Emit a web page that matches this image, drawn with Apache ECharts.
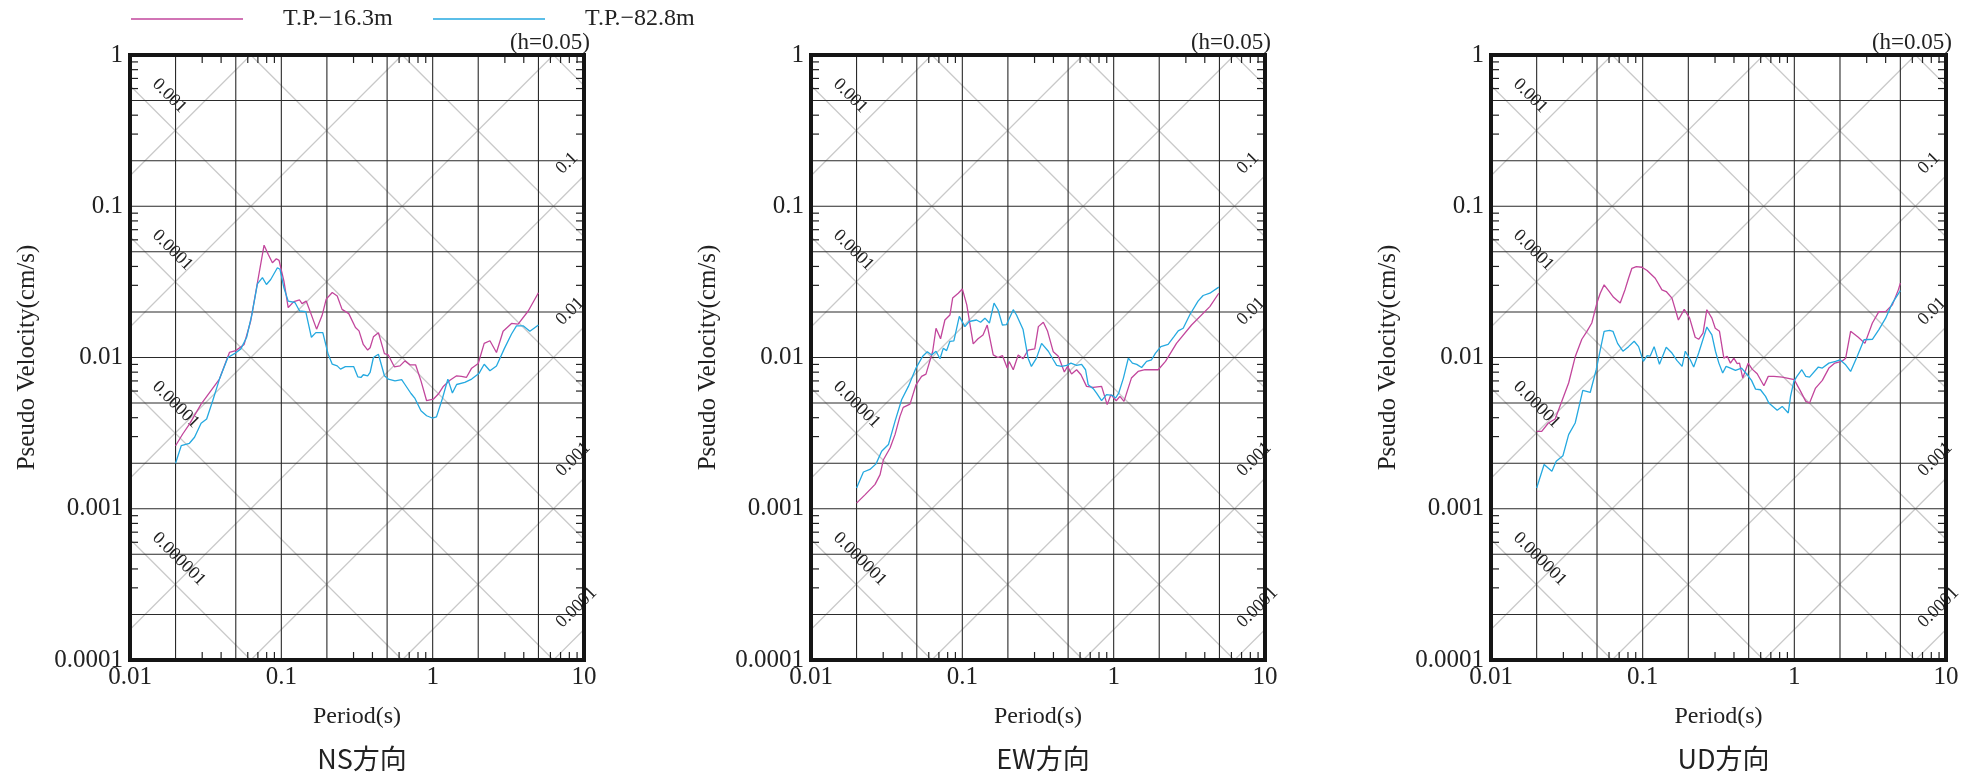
<!DOCTYPE html>
<html>
<head>
<meta charset="utf-8">
<script src="https://cdn.jsdelivr.net/npm/echarts@6/dist/echarts.min.js"></script>
<style>
html,body{margin:0;padding:0;background:#fff;}
#chart{width:1977px;height:779px;}
</style>
</head>
<body>
<div id="chart"></div>
<script>
// ---------------- data ----------------
const seriesNames = ['T.P.−16.3m', 'T.P.−82.8m'];
const panelTitles = ['NS方向', 'EW方向', 'UD方向'];
const dampingLabel = '(h=0.05)';
const periodTickLabels = ['0.01', '0.1', '1', '10'];
const velocityTickLabels = ['0.0001', '0.001', '0.01', '0.1', '1'];
const periodGrid = [0.02, 0.05, 0.1, 0.2, 0.5, 1, 2, 5];
const velocityGrid = [0.5, 0.2, 0.1, 0.05, 0.02, 0.01, 0.005, 0.002, 0.001, 0.0005, 0.0002];
const minorMultipliers = [3, 4, 6, 7, 8, 9];
const dispLines = [1e-6, 1e-5, 1e-4, 1e-3, 1e-2, 1e-1, 1];      // cm
const dispLabels = ['0.001', '0.0001', '0.00001', '0.000001'];
const accLines = [1e-4, 1e-3, 1e-2, 0.1, 1, 10, 100];           // cm/s2
const accLabels = ['0.1', '0.01', '0.001', '0.0001'];

const nsUpper = [[0.02,0.00261],[0.0223,0.00312],[0.0247,0.00363],[0.0295,0.00492],[0.039,0.0072],[0.0454,0.0108],[0.05,0.0111],[0.0568,0.0122],[0.0628,0.0175],[0.0695,0.0312],[0.0769,0.0553],[0.082,0.048],[0.0873,0.0423],[0.0927,0.045],[0.0966,0.0439],[0.104,0.032],[0.111,0.0214],[0.121,0.0234],[0.132,0.024],[0.137,0.0227],[0.146,0.0236],[0.156,0.0198],[0.171,0.0154],[0.186,0.019],[0.198,0.0243],[0.217,0.0269],[0.234,0.0255],[0.252,0.0208],[0.279,0.0195],[0.309,0.0158],[0.326,0.015],[0.348,0.0122],[0.372,0.0112],[0.386,0.0116],[0.406,0.0137],[0.438,0.0146],[0.48,0.0106],[0.509,0.0104],[0.558,0.00868],[0.608,0.0088],[0.656,0.0095],[0.708,0.00895],[0.771,0.00895],[0.837,0.00701],[0.912,0.00518],[1.01,0.0053],[1.09,0.00573],[1.17,0.0064],[1.3,0.00708],[1.44,0.00757],[1.55,0.0075],[1.67,0.00738],[1.81,0.0085],[2.0,0.00912],[2.19,0.0124],[2.39,0.0129],[2.64,0.0108],[2.92,0.0149],[3.32,0.0168],[3.67,0.0166],[4.28,0.0203],[5.0,0.0268]];
const nsLower = [[0.02,0.002],[0.0218,0.00261],[0.0247,0.00271],[0.0267,0.00297],[0.0295,0.00367],[0.0321,0.00392],[0.0352,0.00518],[0.039,0.0072],[0.0443,0.01],[0.049,0.0106],[0.054,0.0114],[0.059,0.0136],[0.0639,0.0193],[0.0695,0.0307],[0.075,0.0337],[0.0797,0.0304],[0.0851,0.0328],[0.0942,0.0392],[0.098,0.0383],[0.104,0.0289],[0.111,0.0236],[0.123,0.0231],[0.132,0.0203],[0.145,0.0201],[0.158,0.0136],[0.169,0.0146],[0.188,0.0146],[0.204,0.0105],[0.217,0.00903],[0.234,0.0088],[0.246,0.00838],[0.265,0.0087],[0.301,0.0087],[0.32,0.00745],[0.336,0.00738],[0.348,0.00769],[0.372,0.00757],[0.386,0.00796],[0.406,0.01],[0.438,0.0105],[0.48,0.00757],[0.509,0.0072],[0.564,0.00701],[0.624,0.00713],[0.656,0.00663],[0.719,0.00578],[0.764,0.00536],[0.837,0.00445],[0.912,0.00412],[0.993,0.00398],[1.06,0.00405],[1.16,0.00536],[1.26,0.0072],[1.35,0.00582],[1.44,0.00663],[1.63,0.00684],[1.81,0.0072],[2.02,0.00783],[2.19,0.00903],[2.39,0.00817],[2.64,0.0088],[2.97,0.0114],[3.32,0.0143],[3.58,0.0162],[3.96,0.0162],[4.39,0.0149],[5.0,0.0164]];
const ewUpper = [[0.02,0.00109],[0.0228,0.00124],[0.0265,0.00145],[0.0286,0.00168],[0.0301,0.00211],[0.0333,0.00252],[0.0359,0.00309],[0.0387,0.00408],[0.0407,0.00468],[0.0451,0.00492],[0.0494,0.0066],[0.0538,0.0075],[0.0575,0.00777],[0.0637,0.011],[0.067,0.0156],[0.0718,0.0133],[0.0767,0.0177],[0.0828,0.0191],[0.0863,0.0247],[0.094,0.0266],[0.1,0.0284],[0.107,0.0223],[0.118,0.0123],[0.127,0.0133],[0.137,0.0141],[0.146,0.0164],[0.16,0.0104],[0.172,0.01],[0.184,0.0103],[0.198,0.00851],[0.204,0.0094],[0.217,0.0083],[0.234,0.0104],[0.252,0.00981],[0.272,0.0112],[0.301,0.0114],[0.318,0.016],[0.343,0.0171],[0.366,0.0149],[0.399,0.0109],[0.431,0.0102],[0.472,0.00802],[0.496,0.00873],[0.527,0.00777],[0.569,0.0083],[0.608,0.00769],[0.662,0.00644],[0.733,0.00635],[0.832,0.00644],[0.906,0.00488],[0.959,0.00568],[1.04,0.00518],[1.1,0.00553],[1.17,0.00513],[1.31,0.00731],[1.45,0.00809],[1.61,0.0083],[1.97,0.0083],[2.2,0.00942],[2.6,0.0124],[3.27,0.0164],[4.32,0.0217],[4.95,0.0266]];
const ewLower = [[0.02,0.00137],[0.0222,0.00175],[0.0245,0.00182],[0.0269,0.00198],[0.0293,0.0024],[0.0325,0.00266],[0.0359,0.00378],[0.0397,0.00526],[0.044,0.00644],[0.0494,0.00851],[0.0547,0.0102],[0.0587,0.0109],[0.0627,0.0104],[0.067,0.011],[0.0712,0.00981],[0.0748,0.0115],[0.0787,0.0111],[0.0828,0.0128],[0.0879,0.0129],[0.0955,0.0187],[0.104,0.016],[0.111,0.0173],[0.124,0.0177],[0.132,0.0171],[0.141,0.0182],[0.151,0.0169],[0.162,0.0229],[0.172,0.0207],[0.184,0.0164],[0.196,0.0165],[0.217,0.0207],[0.228,0.0191],[0.252,0.0153],[0.272,0.0099],[0.286,0.00873],[0.309,0.0099],[0.334,0.0124],[0.37,0.011],[0.399,0.00966],[0.42,0.00887],[0.453,0.00873],[0.489,0.00887],[0.522,0.00918],[0.569,0.00887],[0.614,0.009],[0.652,0.0083],[0.679,0.0066],[0.733,0.00622],[0.771,0.00582],[0.832,0.00518],[0.897,0.00568],[0.977,0.00562],[1.03,0.0054],[1.08,0.00582],[1.16,0.00731],[1.25,0.0099],[1.33,0.00918],[1.42,0.009],[1.53,0.00859],[1.65,0.00942],[1.78,0.00966],[1.89,0.0107],[2.05,0.0118],[2.29,0.0122],[2.51,0.0138],[2.67,0.015],[2.88,0.0156],[3.18,0.0191],[3.61,0.0236],[3.9,0.0257],[4.32,0.0266],[4.95,0.0292]];
const udUpper = [[0.02,0.00325],[0.0216,0.00325],[0.0239,0.00369],[0.0265,0.00392],[0.0293,0.00513],[0.0325,0.00678],[0.0359,0.0101],[0.0397,0.0132],[0.0429,0.0149],[0.0462,0.0169],[0.0499,0.0229],[0.0525,0.0266],[0.0557,0.0302],[0.0596,0.0277],[0.0643,0.025],[0.0711,0.0229],[0.0767,0.0283],[0.0807,0.0334],[0.0849,0.0389],[0.0908,0.0399],[0.0989,0.0395],[0.107,0.0376],[0.121,0.0334],[0.134,0.028],[0.143,0.0273],[0.156,0.0247],[0.172,0.0177],[0.188,0.0208],[0.204,0.0182],[0.222,0.0136],[0.234,0.0132],[0.25,0.0145],[0.265,0.0207],[0.286,0.0182],[0.301,0.0156],[0.321,0.0149],[0.343,0.0099],[0.361,0.0102],[0.379,0.00918],[0.399,0.0099],[0.42,0.0091],[0.435,0.00918],[0.457,0.00731],[0.496,0.00918],[0.527,0.00838],[0.569,0.00781],[0.63,0.0065],[0.673,0.0075],[0.733,0.0075],[0.832,0.00742],[1.0,0.00713],[1.1,0.00597],[1.19,0.00513],[1.26,0.005],[1.38,0.00628],[1.53,0.00706],[1.69,0.00851],[1.85,0.00918],[2.05,0.00942],[2.18,0.0099],[2.35,0.0149],[2.64,0.0136],[2.92,0.0124],[3.27,0.0169],[3.61,0.0201],[4.0,0.0201],[4.43,0.0223],[4.85,0.028],[5.0,0.031]];
const udLower = [[0.02,0.00137],[0.0224,0.00196],[0.0252,0.00177],[0.0269,0.00206],[0.0298,0.00224],[0.0325,0.00309],[0.0359,0.00369],[0.0403,0.00607],[0.0451,0.00587],[0.0494,0.0083],[0.0525,0.0112],[0.0557,0.0149],[0.0605,0.0151],[0.0637,0.0149],[0.0683,0.0124],[0.0741,0.011],[0.0807,0.0118],[0.0879,0.0128],[0.094,0.0118],[0.101,0.00942],[0.107,0.0103],[0.112,0.0102],[0.119,0.0118],[0.129,0.00903],[0.143,0.0117],[0.156,0.0107],[0.168,0.00957],[0.182,0.00873],[0.191,0.011],[0.206,0.00966],[0.217,0.00865],[0.234,0.0107],[0.265,0.0159],[0.286,0.0141],[0.302,0.011],[0.318,0.00918],[0.337,0.00789],[0.355,0.00873],[0.379,0.00851],[0.409,0.00822],[0.449,0.00851],[0.489,0.00769],[0.522,0.00706],[0.555,0.00618],[0.598,0.00612],[0.646,0.00553],[0.679,0.005],[0.771,0.00448],[0.832,0.00475],[0.912,0.0043],[0.944,0.00553],[0.993,0.00695],[1.04,0.0075],[1.12,0.0083],[1.19,0.0075],[1.26,0.00742],[1.44,0.00865],[1.53,0.00851],[1.69,0.00918],[1.87,0.00942],[2.0,0.00966],[2.18,0.00895],[2.35,0.00809],[2.6,0.0102],[2.88,0.0131],[3.27,0.0132],[3.61,0.0153],[4.0,0.0182],[4.43,0.0229],[5.0,0.0277]];

// ---------------- chart ----------------
const upperSets = [nsUpper, ewUpper, udUpper];
const lowerSets = [nsLower, ewLower, udLower];
const COLORS = ['#c2469c', '#25a9e0'];
const SERIF = '"Liberation Serif", "Times New Roman", serif';
const TMIN = 0.01, TMAX = 10, VMIN = 1e-4, VMAX = 1;
const TWO_PI = 2 * Math.PI;

const panelLeft = [130, 811, 1491];
const panelWidth = [454, 454, 455];
const panelTop = 55, panelHeight = 605;

function decoRender(params, api) {
  const ch = [];
  const c = (t, v) => api.coord([t, v]);
  const line = (p0, p1, stroke, lw) => ch.push({
    type: 'line', shape: {x1: p0[0], y1: p0[1], x2: p1[0], y2: p1[1]},
    style: {stroke: stroke, lineWidth: lw}
  });
  // tripartite diagonals
  dispLines.forEach(d => {
    const k = TWO_PI * d;
    const t0 = Math.max(TMIN, k / VMAX), t1 = Math.min(TMAX, k / VMIN);
    if (t0 < t1) line(c(t0, k / t0), c(t1, k / t1), '#c9c9c9', 1.2);
  });
  accLines.forEach(a => {
    const k = a / TWO_PI;
    const t0 = Math.max(TMIN, VMIN / k), t1 = Math.min(TMAX, VMAX / k);
    if (t0 < t1) line(c(t0, k * t0), c(t1, k * t1), '#c9c9c9', 1.2);
  });
  // gridlines
  periodGrid.forEach(t => line(c(t, VMIN), c(t, VMAX), '#2a2a2a', 1.1));
  velocityGrid.forEach(v => line(c(TMIN, v), c(TMAX, v), '#2a2a2a', 1.1));
  // minor ticks (inward)
  const TL = 8;
  for (let e = -2; e <= 0; e++) minorMultipliers.forEach(m => {
    const t = m * Math.pow(10, e);
    const pb = c(t, VMIN), pt = c(t, VMAX);
    line(pb, [pb[0], pb[1] - TL], '#222', 1.2);
    line(pt, [pt[0], pt[1] + TL], '#222', 1.2);
  });
  for (let e = -4; e <= -1; e++) minorMultipliers.forEach(m => {
    const v = m * Math.pow(10, e);
    const pl = c(TMIN, v), pr = c(TMAX, v);
    line(pl, [pl[0] + TL, pl[1]], '#222', 1.2);
    line(pr, [pr[0] - TL, pr[1]], '#222', 1.2);
  });
  // diagonal labels
  const font = '18px ' + SERIF;
  dispLabels.forEach(s => {
    const d = parseFloat(s);
    const p = c(TMIN, TWO_PI * d / TMIN);
    ch.push({type: 'text', x: p[0] + 25, y: p[1] - 4, rotation: -Math.PI / 4,
      style: {text: s, font: font, fill: '#222', align: 'left', verticalAlign: 'middle'}});
  });
  accLabels.forEach(s => {
    const a = parseFloat(s);
    const p = c(TMAX, a * TMAX / TWO_PI);
    ch.push({type: 'text', x: p[0] - 25, y: p[1] - 4.5, rotation: Math.PI / 4,
      style: {text: s, font: font, fill: '#222', align: 'left', verticalAlign: 'middle'}});
  });
  return {type: 'group', children: ch};
}

const grid = [], xAxis = [], yAxis = [], series = [], graphic = [];
for (let i = 0; i < 3; i++) {
  grid.push({left: panelLeft[i], top: panelTop, width: panelWidth[i], height: panelHeight,
    show: true, borderColor: '#151515', borderWidth: 4, backgroundColor: 'transparent', z: 3});
  xAxis.push({
    gridIndex: i, type: 'log', logBase: 10, min: TMIN, max: TMAX,
    name: 'Period(s)', nameLocation: 'middle', nameGap: 45,
    nameTextStyle: {fontFamily: SERIF, fontSize: 24, color: '#222'},
    axisLine: {show: false}, axisTick: {show: false}, splitLine: {show: false},
    axisLabel: {fontFamily: SERIF, fontSize: 25, color: '#222', margin: 5,
      formatter: v => periodTickLabels[Math.round(Math.log10(v)) + 2]}
  });
  yAxis.push({
    gridIndex: i, type: 'log', logBase: 10, min: VMIN, max: VMAX,
    name: 'Pseudo Velocity(cm/s)', nameLocation: 'middle', nameGap: 90, nameRotate: 90,
    nameTextStyle: {fontFamily: SERIF, fontSize: 25, color: '#222'},
    axisLine: {show: false}, axisTick: {show: false}, splitLine: {show: false},
    axisLabel: {fontFamily: SERIF, fontSize: 25, color: '#222', margin: 7,
      formatter: v => velocityTickLabels[Math.round(Math.log10(v)) + 4]}
  });
  series.push({type: 'custom', xAxisIndex: i, yAxisIndex: i, silent: true, clip: false,
    z: 1, renderItem: decoRender, data: [[1, 0.01]], encode: {x: 0, y: 1}});
  [upperSets[i], lowerSets[i]].forEach((d, j) => series.push({
    type: 'line', name: seriesNames[j], xAxisIndex: i, yAxisIndex: i, data: d,
    symbol: 'none', showSymbol: false, z: 5, animation: false,
    lineStyle: {color: COLORS[j], width: 1.3}, itemStyle: {color: COLORS[j]}
  }));
  graphic.push({type: 'text', x: panelLeft[i] + panelWidth[i] + 6, y: 43,
    style: {text: dampingLabel, font: '23px ' + SERIF, fill: '#222', align: 'right', verticalAlign: 'middle'}});
  graphic.push({type: 'text', x: panelLeft[i] + panelWidth[i] / 2 + 5, y: 759,
    style: {text: panelTitles[i], font: '27px "Noto Sans CJK JP"', fill: '#222', align: 'center', verticalAlign: 'middle'}});
}

const legendBase = (name, left) => ({
  data: [name], left: left, top: 7, padding: 0, itemWidth: 112, itemHeight: 1.6, icon: 'rect',
  formatter: n => '{g|}{t|' + n + '}',
  textStyle: {rich: {g: {width: 35}, t: {fontFamily: SERIF, fontSize: 24, color: '#222'}}}
});

const chart = echarts.init(document.getElementById('chart'), null, {renderer: 'canvas'});
chart.setOption({
  animation: false,
  backgroundColor: '#fff',
  legend: [legendBase(seriesNames[0], 131), legendBase(seriesNames[1], 433)],
  grid: grid, xAxis: xAxis, yAxis: yAxis, series: series, graphic: graphic
});
</script>
</body>
</html>
